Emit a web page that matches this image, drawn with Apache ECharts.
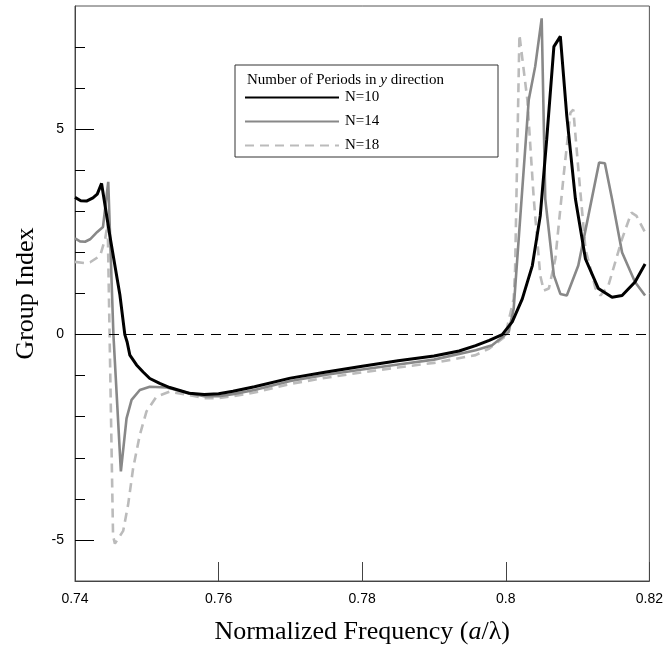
<!DOCTYPE html>
<html>
<head>
<meta charset="utf-8">
<script src="https://cdn.jsdelivr.net/npm/echarts@6/dist/echarts.min.js"></script>
<style>
  html, body { margin: 0; padding: 0; background: #fff; }
  #chart { width: 666px; height: 650px; }
</style>
</head>
<body>
<div id="chart"></div>
<script>
// group index vs normalized frequency, three period counts
var seriesNames = ['N=10', 'N=14', 'N=18'];
var xTicks = [0.74, 0.76, 0.78, 0.8, 0.82];
var yMajorTicks = [-5, 0, 5];
var yMinorTicks = [-4, -3, -2, -1, 1, 2, 3, 4, 6, 7];

var n10 = [
  [0.7400, 3.34], [0.7408, 3.26], [0.7416, 3.25], [0.7425, 3.33], [0.7431, 3.42],
  [0.7437, 3.68], [0.74486, 2.40], [0.74625, 0.97], [0.74694, 0.0], [0.74726, -0.18],
  [0.74764, -0.50], [0.74857, -0.74], [0.74949, -0.91], [0.75042, -1.07], [0.7518, -1.19],
  [0.7532, -1.29], [0.75588, -1.43], [0.758, -1.46], [0.760, -1.44], [0.762, -1.38],
  [0.765, -1.27], [0.770, -1.06], [0.775, -0.91], [0.780, -0.77], [0.785, -0.64],
  [0.790, -0.52], [0.7935, -0.40], [0.7958, -0.27], [0.7977, -0.14], [0.7995, 0.0],
  [0.8009, 0.31], [0.8023, 0.87], [0.8037, 1.68], [0.8048, 2.89], [0.8057, 4.75],
  [0.8067, 7.01], [0.8076, 7.26], [0.8085, 5.32], [0.8097, 3.30], [0.8111, 1.84],
  [0.8129, 1.12], [0.8148, 0.91], [0.8162, 0.95], [0.8180, 1.28], [0.8194, 1.72]
];

var n14 = [
  [0.7400, 2.34], [0.7407, 2.27], [0.7414, 2.26], [0.7421, 2.32], [0.7431, 2.50],
  [0.7439, 2.62], [0.74463, 3.72], [0.74535, 0.0], [0.74639, -3.33], [0.74718, -2.04],
  [0.74788, -1.59], [0.74903, -1.35], [0.75042, -1.27], [0.75274, -1.29], [0.75583, -1.42],
  [0.758, -1.50], [0.760, -1.50], [0.762, -1.45], [0.765, -1.35], [0.770, -1.13],
  [0.775, -0.98], [0.780, -0.85], [0.785, -0.73], [0.790, -0.61], [0.7958, -0.38],
  [0.7981, -0.26], [0.8004, 0.06], [0.8011, 0.63], [0.8018, 2.33], [0.8032, 5.72],
  [0.8041, 6.53], [0.8050, 7.70], [0.8055, 3.30], [0.8067, 1.44], [0.8076, 0.99],
  [0.8085, 0.95], [0.8101, 1.68], [0.8115, 2.89], [0.8130, 4.19], [0.8138, 4.17],
  [0.8148, 3.30], [0.8162, 2.00], [0.8180, 1.28], [0.8194, 0.95]
];

var n18 = [
  [0.7400, 1.77], [0.7414, 1.74], [0.7421, 1.76], [0.7435, 1.92], [0.7442, 2.33],
  [0.74455, 2.70], [0.7453, -4.90], [0.74556, -5.09], [0.74671, -4.78], [0.7474, -4.14],
  [0.7481, -3.25], [0.74903, -2.44], [0.74996, -1.87], [0.75135, -1.51], [0.7532, -1.39],
  [0.7558, -1.47], [0.758, -1.55], [0.760, -1.55], [0.762, -1.50], [0.765, -1.41],
  [0.770, -1.20], [0.775, -1.05], [0.780, -0.92], [0.785, -0.80], [0.790, -0.69],
  [0.7958, -0.50], [0.7977, -0.34], [0.7999, -0.05], [0.8011, 0.87], [0.8013, 1.6],
  [0.8019, 7.30], [0.8030, 5.72], [0.8039, 3.30], [0.8048, 1.44], [0.8053, 1.07],
  [0.8060, 1.12], [0.8069, 1.84], [0.8081, 3.94], [0.8090, 5.40], [0.8094, 5.48],
  [0.8101, 4.04], [0.8111, 2.08], [0.8125, 1.12], [0.8132, 0.95], [0.8143, 1.20],
  [0.8162, 2.33], [0.8175, 2.97], [0.8182, 2.89], [0.8194, 2.49]
];

(function () {
  var chart = echarts.init(document.getElementById('chart'), null, { renderer: 'canvas' });
  var sans = 'Liberation Sans, Arial, sans-serif';
  var serif = 'Liberation Serif, Times New Roman, serif';
  var tickText = { color: '#000', fontSize: 14, fontFamily: sans };

  chart.setOption({
    animation: false,
    backgroundColor: '#fff',
    grid: { left: 75, right: 15, top: 6, bottom: 66, show: true, borderColor: '#555', borderWidth: 1 },
    title: {
      text: 'Number of Periods in {i|y} direction',
      left: 242, top: 68,
      textStyle: {
        color: '#000', fontSize: 15, fontWeight: 'normal', fontFamily: serif,
        rich: { i: { fontStyle: 'italic', fontSize: 15, fontFamily: serif, color: '#000' } }
      }
    },
    legend: {
      data: seriesNames,
      orient: 'vertical',
      left: 244, top: 90,
      padding: 0,
      itemWidth: 94, itemHeight: 14, itemGap: 9,
      itemStyle: { opacity: 0, borderWidth: 0 },
      textStyle: { color: '#000', fontSize: 15, fontFamily: serif, padding: [0, 0, 0, 1] }
    },
    graphic: [
      { type: 'rect', shape: { x: 235, y: 65, width: 263, height: 92 },
        style: { fill: 'none', stroke: '#333', lineWidth: 1 }, z: 10 }
    ],
    xAxis: {
      type: 'value', min: 0.74, max: 0.82, interval: 0.02,
      name: 'Normalized Frequency ({i|a}/λ)',
      nameLocation: 'middle', nameGap: 38,
      nameTextStyle: {
        color: '#000', fontSize: 26, fontFamily: serif,
        rich: { i: { fontStyle: 'italic', fontSize: 26, fontFamily: serif, color: '#000' } }
      },
      axisLine: { show: true, onZero: false, lineStyle: { color: '#444', width: 1 } },
      axisTick: { show: true, inside: true, length: 19, lineStyle: { color: '#444' } },
      axisLabel: Object.assign({ margin: 11, customValues: xTicks }, tickText),
      splitLine: { show: false }
    },
    yAxis: [
      {
        type: 'value', min: -6, max: 8,
        name: 'Group Index', nameLocation: 'middle', nameGap: 36,
        nameTextStyle: { color: '#000', fontSize: 26, fontFamily: serif },
        axisLine: { show: true, onZero: false, lineStyle: { color: '#444', width: 1 } },
        axisTick: { show: true, inside: true, length: 19, customValues: yMajorTicks, lineStyle: { color: '#000' } },
        axisLabel: Object.assign({ margin: 11, customValues: yMajorTicks }, tickText),
        splitLine: { show: false }
      },
      {
        type: 'value', min: -6, max: 8, position: 'left',
        axisLine: { show: false, onZero: false },
        axisTick: { show: true, inside: true, length: 10, customValues: yMinorTicks, lineStyle: { color: '#000' } },
        axisLabel: { show: false },
        splitLine: { show: false }
      }
    ],
    series: [
      {
        name: 'N=18', type: 'line', data: n18, symbol: 'none', z: 2,
        itemStyle: { color: '#bbbbbb' },
        lineStyle: { color: '#bbbbbb', width: 2.6, type: [9, 6] }
      },
      {
        name: 'N=14', type: 'line', data: n14, symbol: 'none', z: 3,
        itemStyle: { color: '#888888' },
        lineStyle: { color: '#888888', width: 2.6 }
      },
      {
        name: 'N=10', type: 'line', data: n10, symbol: 'none', z: 4,
        itemStyle: { color: '#000' },
        lineStyle: { color: '#000', width: 3 },
        markLine: {
          silent: true, symbol: 'none', label: { show: false },
          lineStyle: { color: '#000', width: 1, type: [10, 7] },
          data: [{ yAxis: 0 }]
        }
      }
    ]
  });
})();
</script>
</body>
</html>
